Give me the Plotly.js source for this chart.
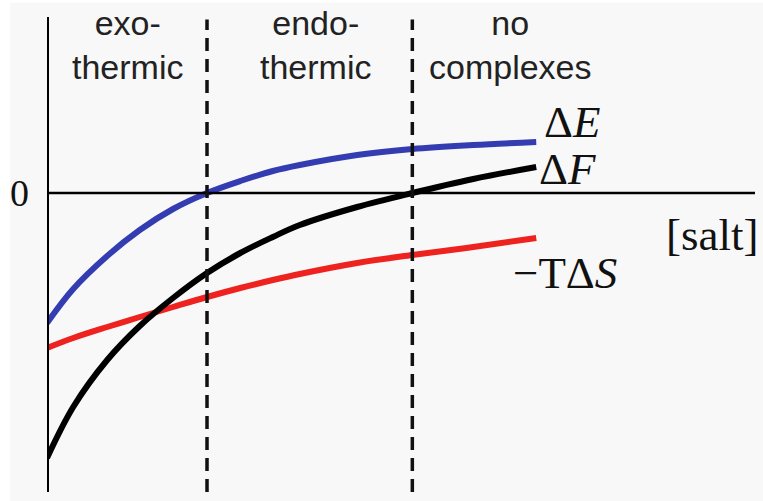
<!DOCTYPE html>
<html>
<head>
<meta charset="utf-8">
<script src="https://cdn.plot.ly/plotly-3.0.1.min.js"></script>
<style>
  html, body { margin: 0; padding: 0; background: #ffffff; }
  #plot { width: 763px; height: 501px; }
</style>
</head>
<body>
<div id="plot"></div>
<script>
// salt concentration (arbitrary units)
var salt = [0, 0.37, 0.85, 1.31, 1.78, 2.26, 2.73, 3.19, 3.57, 4.38, 5.16, 6.02, 6.91];

// energies (arbitrary units)
var dE = [-1.30, -0.96, -0.63, -0.37, -0.16, 0, 0.12, 0.22, 0.28, 0.38, 0.44, 0.48, 0.51];
var dF = [-2.65, -2.14, -1.67, -1.33, -1.05, -0.80, -0.60, -0.44, -0.32, -0.14, 0, 0.14, 0.26];
var mTdS = [-1.55, -1.45, -1.34, -1.24, -1.14, -1.04, -0.95, -0.87, -0.81, -0.70, -0.62, -0.54, -0.45];

// region borders and region names
var borders = [2.26, 5.16];
var regionX = [1.13, 3.79, 6.55];
var regionNames = ["exo-<br>thermic", "endo-<br>thermic", "no<br>complexes"];

var serif = "Liberation Serif, Times New Roman, serif";
var sans = "Liberation Sans, Arial, sans-serif";

function curve(y, color) {
    return {
        x: salt,
        y: y,
        mode: "lines",
        line: { color: color, width: 6, shape: "spline", smoothing: 1 },
        hoverinfo: "skip",
        showlegend: false
    };
}

var data = [
    curve(mTdS, "rgb(238,34,30)"),
    curve(dE, "rgb(52,60,178)"),
    curve(dF, "rgb(0,0,0)")
];

var shapes = [
    // light background of the figure
    { type: "rect", xref: "paper", yref: "paper", x0: -0.052, x1: 1.02, y0: -0.02, y1: 1.03,
      fillcolor: "#f8f8f8", line: { width: 0 }, layer: "below" },
    // vertical axis
    { type: "line", xref: "x", yref: "paper", x0: 0, x1: 0, y0: 0, y1: 1,
      line: { color: "#000", width: 4 } },
    // zero line
    { type: "line", xref: "paper", yref: "y", x0: 0, x1: 1, y0: 0, y1: 0,
      line: { color: "#000", width: 2.5 } }
];
borders.forEach(function (b) {
    shapes.push({ type: "line", xref: "x", yref: "paper", x0: b, x1: b, y0: 0, y1: 0.995,
                  line: { color: "#111", width: 3.5, dash: "13px,8px" } });
});

var annotations = regionNames.map(function (t, i) {
    return { x: regionX[i], xref: "x", y: 0.941, yref: "paper", yanchor: "middle",
             text: t, showarrow: false, font: { family: sans, size: 34, color: "#222" } };
});
var curveLabels = [
    { x: 7.42, y: 0.71, text: "Δ<i>E</i>" },
    { x: 7.35, y: 0.24, text: "Δ<i>F</i>" },
    { x: 9.39, y: -0.42, text: "[salt]" },
    { x: 7.32, y: -0.80, text: "−TΔ<i>S</i>" }
];
curveLabels.forEach(function (c) {
    annotations.push({ x: c.x, y: c.y, text: c.text, showarrow: false,
                       font: { family: serif, size: 45, color: "#111" } });
});
// zero mark on the energy axis
annotations.push({ x: -0.039, xref: "paper", xanchor: "center", y: 0, yref: "y", yanchor: "middle",
                   text: "0", showarrow: false,
                   font: { family: serif, size: 38, color: "#111" } });

var layout = {
    width: 763,
    height: 501,
    margin: { l: 47, r: 8, t: 17, b: 9 },
    paper_bgcolor: "#ffffff",
    plot_bgcolor: "rgba(0,0,0,0)",
    xaxis: { range: [0, 10], showgrid: false, zeroline: false, showticklabels: false, ticks: "" },
    yaxis: { range: [-2.99, 1.76], showgrid: false, zeroline: false, ticks: "",
             showticklabels: false },
    shapes: shapes,
    annotations: annotations,
    showlegend: false
};

Plotly.newPlot("plot", data, layout, { displayModeBar: false, staticPlot: true });
</script>
</body>
</html>
